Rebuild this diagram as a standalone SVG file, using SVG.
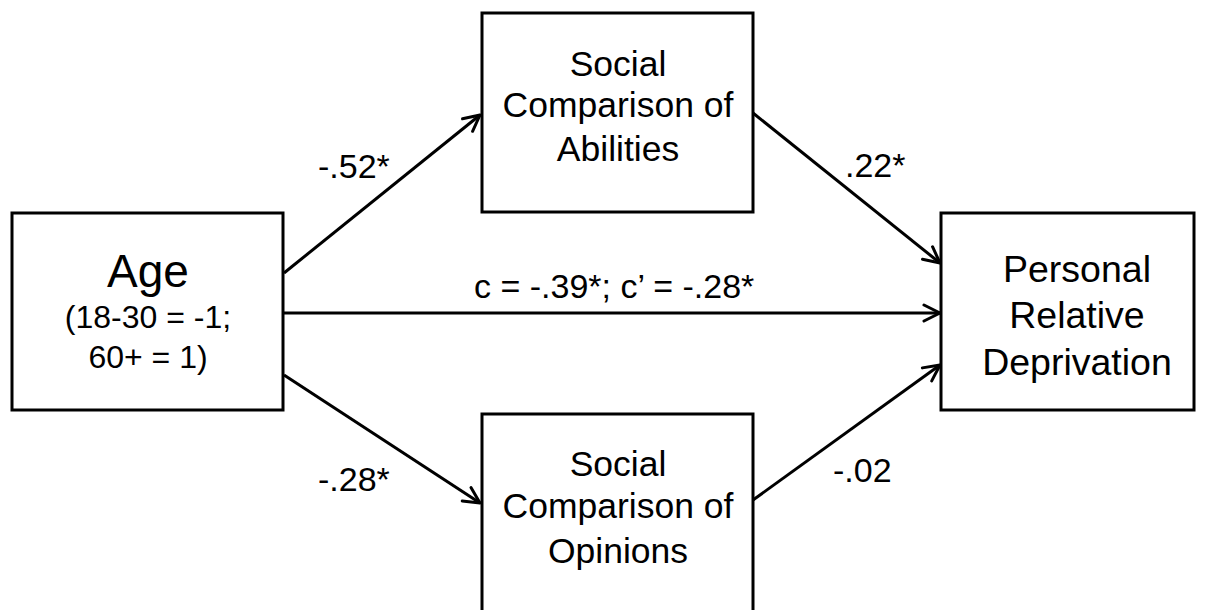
<svg xmlns="http://www.w3.org/2000/svg" width="1206" height="610" viewBox="0 0 1206 610">
<defs>
<marker id="arr" viewBox="0 0 20 20" refX="18" refY="10" markerWidth="20" markerHeight="20" markerUnits="userSpaceOnUse" orient="auto">
<path d="M2,2 L18,10 L2,18" fill="none" stroke="#000" stroke-width="3" stroke-linecap="round" stroke-linejoin="round"/>
</marker>
<style>
.box{fill:#fff;stroke:#000;stroke-width:3}
.t{font-family:"Liberation Sans",Arial,sans-serif;font-size:35.5px;fill:#000;text-anchor:middle}
.lab{font-family:"Liberation Sans",Arial,sans-serif;font-size:34px;fill:#000}
.c{stroke:#000;stroke-width:3;fill:none;marker-end:url(#arr)}
</style>
</defs>
<rect width="1206" height="610" fill="#fff"/>
<g id="connectors">
<line class="c" x1="284" y1="273" x2="480" y2="115"/>
<line class="c" x1="284" y1="313" x2="940" y2="313"/>
<line class="c" x1="284" y1="375" x2="480" y2="503"/>
<line class="c" x1="753" y1="113" x2="940" y2="263"/>
<line class="c" x1="753" y1="500" x2="940" y2="365"/>
<text class="lab" x="318" y="178">-.52*</text>
<text class="lab" x="474" y="298">c = -.39*; c’ = -.28*</text>
<text class="lab" x="845" y="177">.22*</text>
<text class="lab" x="318" y="491">-.28*</text>
<text class="lab" x="833" y="482">-.02</text>
</g>
<g id="age">
<rect class="box" x="12" y="213" width="271" height="197"/>
<text class="t" x="148" y="287" style="font-size:46px">Age</text>
<text class="t" x="148" y="328" style="font-size:32px">(18-30 = -1;</text>
<text class="t" x="148" y="368" style="font-size:32px">60+ = 1)</text>
</g>
<g id="abilities">
<rect class="box" x="482" y="13" width="271" height="199"/>
<text class="t" x="618" y="76">Social</text>
<text class="t" x="618" y="117">Comparison of</text>
<text class="t" x="618" y="161">Abilities</text>
</g>
<g id="opinions">
<rect class="box" x="482" y="414" width="271" height="210"/>
<text class="t" x="618" y="476">Social</text>
<text class="t" x="618" y="518">Comparison of</text>
<text class="t" x="618" y="563">Opinions</text>
</g>
<g id="deprivation">
<rect class="box" x="941" y="213" width="253" height="197"/>
<text class="t" x="1077" y="282" style="font-size:37.5px">Personal</text>
<text class="t" x="1077" y="328" style="font-size:37.5px">Relative</text>
<text class="t" x="1077" y="375" style="font-size:37.5px">Deprivation</text>
</g>
</svg>
